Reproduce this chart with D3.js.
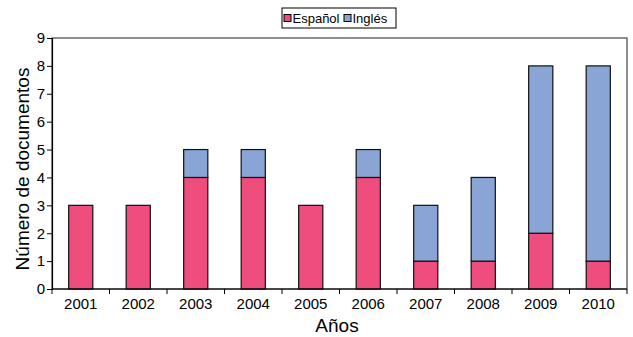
<!DOCTYPE html>
<html>
<head>
<meta charset="utf-8">
<style>
  body, html { margin: 0; background: #fff; }
  svg text { font-family: "Liberation Sans", Arial, sans-serif; fill: #000; }
  .axis text { font-size: 15px; }
  .axis path, .axis line { stroke: #000; }
</style>
<script src="https://d3js.org/d3.v7.min.js"></script>
</head>
<body>
<svg width="633" height="337"></svg>
<script>
const years = ["2001","2002","2003","2004","2005","2006","2007","2008","2009","2010"];
const espanol = [3,3,4,4,3,4,1,1,2,1];
const ingles  = [0,0,1,1,0,1,2,3,6,7];
const yTicks = [0,1,2,3,4,5,6,7,8,9];

const svg = d3.select("svg");
const margin = { top: 38, right: 6, bottom: 48, left: 52 };
const width = 633 - margin.left - margin.right;
const height = 337 - margin.top - margin.bottom;
const g = svg.append("g").attr("transform", `translate(${margin.left},${margin.top})`);

const x = d3.scaleBand().domain(years).range([0, width]).paddingInner(0.58).paddingOuter(0.29);
const band = d3.scaleBand().domain(years).range([0, width]);
const y = d3.scaleLinear().domain([0, 9]).range([height, 0]);

// frame
g.append("rect").attr("x", 0).attr("y", 0).attr("width", width).attr("height", height)
  .attr("fill", "none").attr("stroke", "#444").attr("stroke-width", 1.2);

const data = years.map((d, i) => ({ year: d, es: espanol[i], en: ingles[i] }));

g.selectAll(".es").data(data).enter().append("rect")
  .attr("class", "es")
  .attr("x", d => x(d.year)).attr("width", x.bandwidth())
  .attr("y", d => y(d.es)).attr("height", d => y(0) - y(d.es))
  .attr("fill", "#ee4d7d").attr("stroke", "#111").attr("stroke-width", 1.2);

g.selectAll(".en").data(data.filter(d => d.en > 0)).enter().append("rect")
  .attr("class", "en")
  .attr("x", d => x(d.year)).attr("width", x.bandwidth())
  .attr("y", d => y(d.es + d.en)).attr("height", d => y(d.es) - y(d.es + d.en))
  .attr("fill", "#89a5d6").attr("stroke", "#111").attr("stroke-width", 1.2);

// y axis
g.append("g").attr("class", "axis")
  .call(d3.axisLeft(y).tickValues(yTicks).tickSize(5).tickPadding(2).tickFormat(d3.format("d")))
  .call(a => a.select(".domain").attr("stroke-width", 1.2));

// x axis with ticks at category boundaries
const xAxis = g.append("g").attr("class", "axis").attr("transform", `translate(0,${height})`);
xAxis.append("line").attr("x1", 0).attr("x2", width).attr("stroke", "#000").attr("stroke-width", 1.2);
xAxis.selectAll(".xt").data(years.concat(["end"])).enter().append("line")
  .attr("x1", (d, i) => i * band.bandwidth()).attr("x2", (d, i) => i * band.bandwidth())
  .attr("y1", 0).attr("y2", 5).attr("stroke", "#000");
xAxis.selectAll(".xl").data(years).enter().append("text")
  .attr("x", d => band(d) + band.bandwidth() / 2).attr("y", 20)
  .attr("text-anchor", "middle").text(d => d);

// axis titles
svg.append("text").attr("x", 337).attr("y", 332)
  .attr("text-anchor", "middle").attr("font-size", 19).text("Años");
svg.append("text").attr("transform", "translate(29,169) rotate(-90)")
  .attr("text-anchor", "middle").attr("font-size", 19).text("Número de documentos");

// legend
const lg = svg.append("g").attr("transform", "translate(282,8)");
lg.append("rect").attr("width", 114).attr("height", 20).attr("fill", "#fff").attr("stroke", "#000");
const items = [["Español", "#ee4d7d", 2], ["Inglés", "#89a5d6", 62]];
items.forEach(([label, color, ox]) => {
  lg.append("rect").attr("x", ox).attr("y", 6.5).attr("width", 7).attr("height", 7)
    .attr("fill", color).attr("stroke", "#000");
  lg.append("text").attr("x", ox + 8.5).attr("y", 15).attr("font-size", 13).text(label);
});
</script>
</body>
</html>
